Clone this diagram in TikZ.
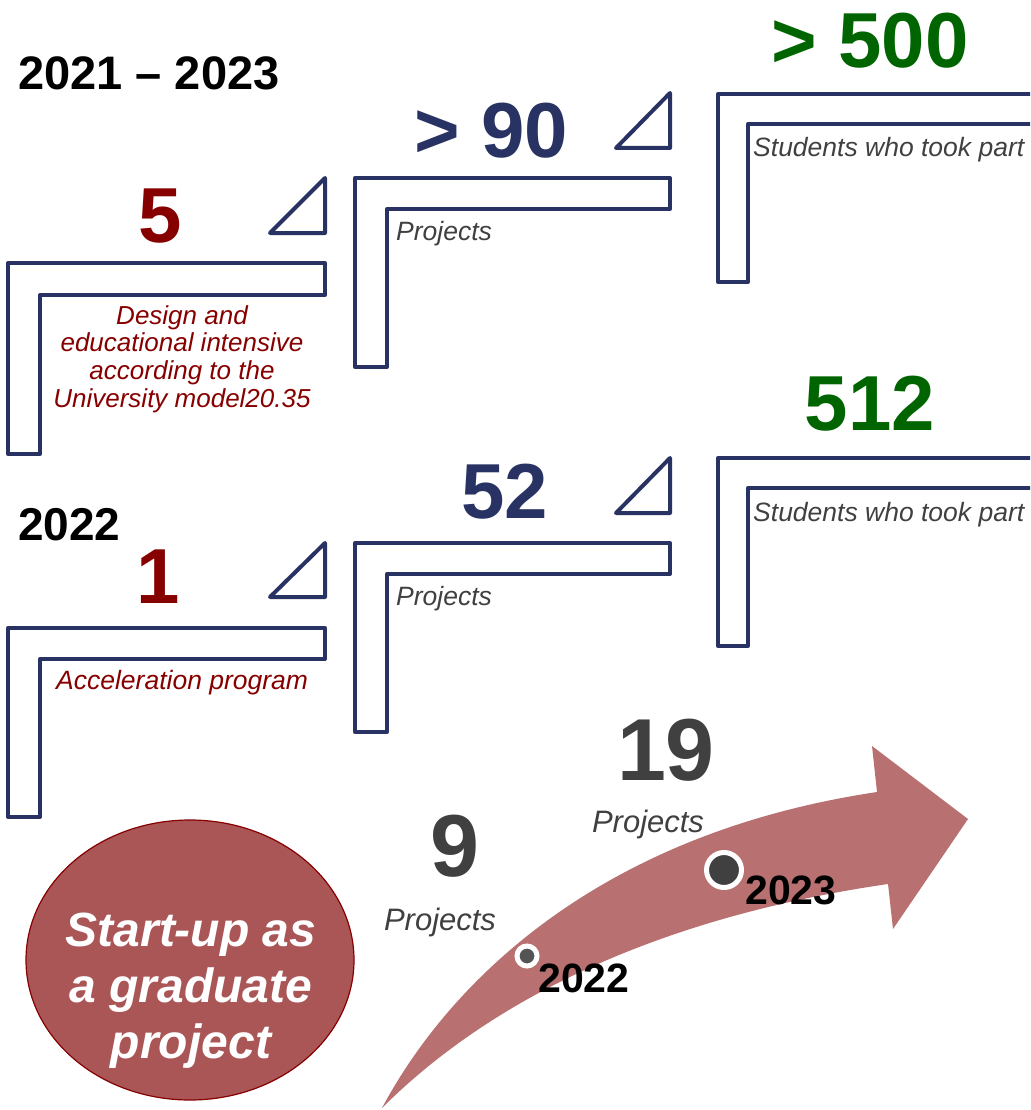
\documentclass[tikz,border=0pt]{standalone}
\usepackage{fontspec}
\setmainfont{Liberation Sans}
\usetikzlibrary{shapes.geometric}
\definecolor{navy}{RGB}{41,51,99}
\definecolor{dred}{RGB}{135,0,0}
\definecolor{dgreen}{RGB}{0,100,0}
\definecolor{dgray}{RGB}{64,64,64}
\definecolor{arrowcol}{RGB}{184,112,112}
\definecolor{ellfill}{RGB}{170,86,86}
\tikzset{
  frameline/.style={draw=navy, line width=4pt, line join=round, fill=white},
  bignum/.style={anchor=base, inner sep=0pt, font=\bfseries\fontsize{78}{78}\selectfont},
  graynum/.style={anchor=base, inner sep=0pt, text=dgray, font=\bfseries\fontsize{88}{88}\selectfont},
  yearlbl/.style={anchor=base west, inner sep=0pt, text=black, font=\bfseries\fontsize{47}{47}\selectfont},
  smallyear/.style={anchor=base west, inner sep=0pt, text=black, font=\bfseries\fontsize{41}{41}\selectfont},
  caption/.style={anchor=base west, inner sep=0pt, font=\itshape\fontsize{26.5}{28}\selectfont},
  projlbl/.style={anchor=base, inner sep=0pt, text=dgray, font=\itshape\fontsize{31}{31}\selectfont},
  dotmark/.style={circle, draw=white, line width=5pt, inner sep=0pt},
}
\begin{document}
\begin{tikzpicture}[x=1pt,y=-1pt]
\useasboundingbox (0,0) rectangle (1030,1110);
\clip (0,0) rectangle (1030,1110);

% ---------- top row ----------
\draw[frameline] (8,263) -- (325,263) -- (325,295) -- (40,295) -- (40,454) -- (8,454) -- cycle;
\draw[frameline] (270,233) -- (325,178) -- (325,233) -- cycle;
\draw[frameline] (355,178) -- (670,178) -- (670,209) -- (387,209) -- (387,367) -- (355,367) -- cycle;
\draw[frameline] (616,148) -- (670,93) -- (670,148) -- cycle;
\draw[frameline] (718,94) -- (1040,94) -- (1040,124) -- (748,124) -- (748,282) -- (718,282) -- cycle;

% ---------- bottom row ----------
\draw[frameline] (8,628) -- (325,628) -- (325,659) -- (40,659) -- (40,817) -- (8,817) -- cycle;
\draw[frameline] (270,597) -- (325,543) -- (325,597) -- cycle;
\draw[frameline] (355,543) -- (670,543) -- (670,574) -- (387,574) -- (387,732) -- (355,732) -- cycle;
\draw[frameline] (616,513) -- (670,458) -- (670,513) -- cycle;
\draw[frameline] (718,458) -- (1040,458) -- (1040,488) -- (748,488) -- (748,646) -- (718,646) -- cycle;

% ---------- headings ----------
\node[yearlbl] (yrA) at (18,90) {2021 – 2023};
\node[yearlbl, font=\bfseries\fontsize{46}{46}\selectfont] (yrB) at (18,540) {2022};

% ---------- numbers ----------
\node[bignum, text=dred] (n5) at (160,242) {5};
\node[bignum, text=navy] (n90) at (491,158) {> 90};
\node[bignum, text=dgreen] (n500) at (870,68) {> 500};
\node[bignum, text=dred] (n1) at (158,603) {1};
\node[bignum, text=navy] (n52) at (505,518) {52};
\node[bignum, text=dgreen] (n512) at (870,430) {512};

% ---------- captions ----------
\node[inner sep=0pt, align=center, text=dred, font=\itshape\fontsize{26}{27.7}\selectfont] (capA) at (182,359)
  {Design and\\educational intensive\\according to the\\University model20.35};
\node[caption, text=dgray] (capB) at (396,240) {Projects};
\node[caption, text=dgray] (capC) at (753,157) {Students who took part};
\node[caption, text=dred] (capD) at (56,689) {Acceleration program};
\node[caption, text=dgray] (capE) at (396,605) {Projects};
\node[caption, text=dgray] (capF) at (753,521) {Students who took part};

% ---------- curved arrow ----------
\fill[arrowcol] (382,1108) .. controls (445,990) and (590,835) .. (877,792)
  -- (872,746) -- (968,819) -- (893,929) -- (888,884)
  .. controls (640,920) and (480,1010) .. (382,1108) -- cycle;
\node[dotmark, fill=black!67, minimum size=20pt] (d22) at (527,956) {};
\node[dotmark, fill=dgray, minimum size=35pt] (d23) at (724,870) {};
\node[smallyear] (y22) at (538,992) {2022};
\node[smallyear] (y23) at (745,904) {2023};

\node[graynum] (n9) at (455,876) {9};
\node[projlbl] (p9) at (440,930) {Projects};
\node[graynum] (n19) at (666,780) {19};
\node[projlbl] (p19) at (648,832) {Projects};

% ---------- start-up ellipse ----------
\node[ellipse, draw=dred, line width=1.2pt, fill=ellfill, minimum width=328pt, minimum height=280pt, inner sep=0pt] (startup) at (190,960) {};
\node[inner sep=0pt, align=center, text=white, font=\bfseries\itshape\fontsize{48}{56}\selectfont] (sutext) at (191,991)
  {Start-up as\\a graduate\\project};
\end{tikzpicture}
\end{document}
